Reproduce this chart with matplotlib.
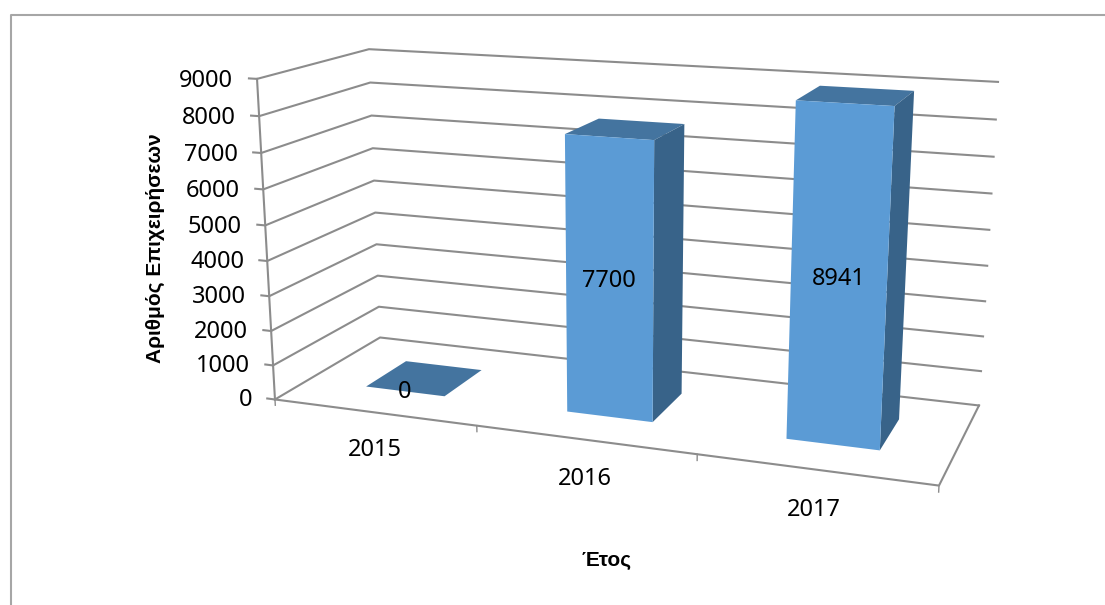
import numpy as np
import matplotlib
matplotlib.use('Agg')
import matplotlib.pyplot as plt
from matplotlib.lines import Line2D
from mpl_toolkits.mplot3d import proj3d

# data
years = ['2015', '2016', '2017']
firms = [0, 7700, 8941]
value_ticks = [0, 1000, 2000, 3000, 4000, 5000, 6000, 7000, 8000, 9000]

plt.rcParams['font.family'] = ['Noto Sans', 'DejaVu Sans']

W, H = 1105, 605
GREY = '#8c8c8c'
FRONT, TOP, SIDE, HIDDEN = '#5b9bd5', '#44749f', '#386389', '#00000000'
x_max, depth, z_max = len(years), 1.0, value_ticks[-1]

# camera: fit the projection of the chart box (x, depth, value) onto the picture
box = [(0, 0, 0, 275, 399), (x_max, 0, 0, 939, 486), (x_max, 1, 0, 979, 405),
       (0, 1, 0, 380, 338), (0, 0, 1, 257, 79), (0, 1, 1, 369, 49), (x_max, 1, 1, 998, 82)]
A = []
for bx, by, bz, px, py in box:
    u, v = px / 1000, py / 1000
    A.append([bx, by, bz, 1, 0, 0, 0, 0, -u * bx, -u * by, -u * bz, -u])
    A.append([0, 0, 0, 0, bx, by, bz, 1, -v * bx, -v * by, -v * bz, -v])
P = np.linalg.svd(np.array(A))[2][-1].reshape(3, 4)
P = P / (P[2] @ [x_max / 2, 0.5, 0.5, 1])
P[:2] *= 1000
P[:, 2] /= z_max
M = np.array([P[0], P[1], [0, 1, 0, 0], P[2]])

fig = plt.figure(figsize=(W / 100, H / 100), dpi=100, facecolor='white')
# square 3d axes covering the whole figure, in picture pixels
ax = fig.add_axes([0, -(W - H) / 2 / H, 1, W / H], projection='3d')
ax.set_axis_off()
ax.set_proj_type('ortho')
ax.get_proj = lambda: M
ax.viewLim.intervalx = (0, W)
ax.viewLim.intervaly = (H + (W - H) / 2, -(W - H) / 2)


def label(x, y, z, s, ha='center', dy=3.5):
    px, py, _ = proj3d.proj_transform(x, y, z, M)
    ax.text2D(px, py + dy, s, transform=ax.transData, ha=ha, va='center', fontsize=17,
              color='black', zorder=100)


# walls and floor
for v in value_ticks:
    ax.plot([-0.04, 0, 0, x_max], [0, 0, depth, depth], [v, v, v, v], color=GREY, lw=1.5)
    label(-0.118, 0, v, str(v), ha='right')
ax.plot([0, 0], [0, 0], [0, z_max], color=GREY, lw=1.5)
ax.plot([0, x_max, x_max], [0, 0, depth], [0, 0, 0], color=GREY, lw=1.5)
for i in range(x_max + 1):
    ax.plot([i, i], [0, 0], [0, -170], color=GREY, lw=1)

# bars, gap width and gap depth 150%
pos = np.arange(len(years)) + 0.3
face_colors = [HIDDEN, TOP, FRONT, HIDDEN, HIDDEN, SIDE] * len(years)
ax.bar3d(pos, np.full(len(years), 0.3), np.zeros(len(years)), 0.4, 0.4, firms,
         color=face_colors, shade=False, edgecolor='none')

for i, year in enumerate(years):
    label(i + 0.5, 0, -1000, year)
    label(i + 0.5, 0.3, firms[i] / 2, str(firms[i]), dy=0.5)

fig.text(155 / W, 1 - 248 / H, 'Αριθμός Επιχειρήσεων', rotation=90, ha='center', va='center',
         family='Liberation Sans', fontsize=15, fontweight='bold')
fig.text(607 / W, 1 - 560 / H, 'Έτος', ha='center', va='center', family='Liberation Sans',
         fontsize=15, fontweight='bold')

# chart frame
fig.add_artist(Line2D([11 / W, 11 / W, 1], [0, 1 - 15 / H, 1 - 15 / H], color='#a6a6a6', lw=1.5,
                      transform=fig.transFigure))

plt.savefig('out.png', dpi=100)
